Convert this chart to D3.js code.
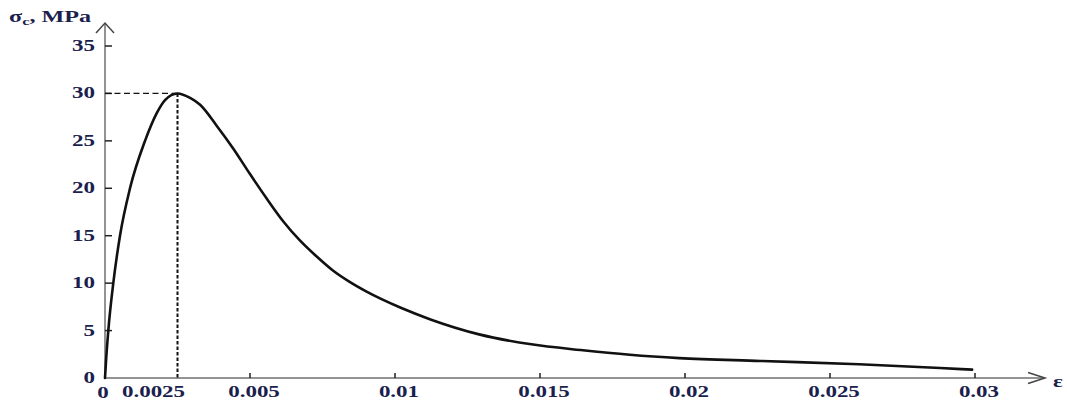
<!DOCTYPE html>
<html>
<head>
<meta charset="utf-8">
<script src="https://cdn.jsdelivr.net/npm/d3@7"></script>
<style>
  html, body { margin: 0; padding: 0; background: #fff; }
  svg { display: block; }
  .lbl { font-family: "Liberation Serif", "Times New Roman", serif; font-weight: bold; fill: #1c1f4e; }
</style>
</head>
<body>
<svg id="chart" width="1067" height="403"></svg>
<script>
// Strain values of the concrete stress–strain curve
const strain = [0, 0.00004, 0.000114, 0.000286, 0.000517, 0.000862, 0.00138, 0.00178, 0.00207,
  0.0025, 0.00295, 0.00328, 0.00385, 0.00442, 0.005, 0.00558, 0.00615, 0.00672, 0.0073,
  0.00787, 0.00845, 0.00902, 0.0102, 0.0112, 0.0129, 0.0147, 0.0164, 0.0181, 0.0198,
  0.0226, 0.026, 0.0288, 0.0299];
// Corresponding compressive stress, MPa
const stress = [0, 2, 5, 10, 15, 20, 25, 27.9, 29.3,
  30, 29.5, 28.8, 26.6, 24.2, 21.5, 18.9, 16.5, 14.5, 12.8,
  11.3, 10.1, 9.1, 7.4, 6.2, 4.6, 3.55, 2.95, 2.45, 2.1,
  1.8, 1.45, 1.05, 0.88];
// Peak point marked with guide lines
const peakStrain = 0.0025;
const peakStress = 30;
// Axis ticks
const xTicks = [0.0025, 0.005, 0.01, 0.015, 0.02, 0.025, 0.03];
const xTickLabels = ["0.0025", "0.005", "0.01", "0.015", "0.02", "0.025", "0.03"];
const yTicks = [0, 5, 10, 15, 20, 25, 30, 35];
const yTickLabels = ["0", "5", "10", "15", "20", "25", "30", "35"];

const svg = d3.select("#chart");
const x = d3.scaleLinear().domain([0, 0.03]).range([105, 975]);
const y = d3.scaleLinear().domain([0, 35]).range([378, 46]);

// The lettering is wide: stretch it so one digit is about 11.5px across
const probe = svg.append("text").attr("class", "lbl").attr("font-size", 16).text("0");
const digitW = probe.node().getComputedTextLength() || 8;
probe.remove();
const SX = 11.5 / digitW;

const axisColor = "#6f6f6f";

// x axis line with open arrow head
svg.append("line").attr("x1", x(0)).attr("x2", 1044).attr("y1", y(0)).attr("y2", y(0))
  .attr("stroke", axisColor).attr("stroke-width", 1.5);
svg.append("path").attr("d", `M1028,${y(0) - 5.5}L1045,${y(0)}L1028,${y(0) + 5.5}`)
  .attr("fill", "none").attr("stroke", "#444").attr("stroke-width", 1.5);

// y axis line with open arrow head
svg.append("line").attr("x1", x(0)).attr("x2", x(0)).attr("y1", y(0)).attr("y2", 24)
  .attr("stroke", axisColor).attr("stroke-width", 1.5);
svg.append("path").attr("d", `M${x(0) - 9},33L${x(0)},23L${x(0) + 9},33`)
  .attr("fill", "none").attr("stroke", "#444").attr("stroke-width", 1.5);

// y ticks (inside, to the right) and labels
yTicks.forEach((v, i) => {
  if (v > 0) {
    svg.append("line").attr("x1", x(0)).attr("x2", x(0) + 7).attr("y1", y(v)).attr("y2", y(v))
      .attr("stroke", "#222").attr("stroke-width", 1.5);
  }
  svg.append("text").attr("class", "lbl")
    .attr("transform", `translate(95,${y(v) + 5}) scale(${SX},1)`)
    .attr("text-anchor", "end").attr("font-size", 16).text(yTickLabels[i]);
});

// x ticks (small upward marks) and labels
xTicks.forEach((v, i) => {
  if (v !== peakStrain) {
    svg.append("line").attr("x1", x(v)).attr("x2", x(v)).attr("y1", y(0)).attr("y2", y(0) - 5)
      .attr("stroke", "#222").attr("stroke-width", 1.5);
  }
  const cx = v === peakStrain ? x(v) - 24 : x(v) + 4;
  svg.append("text").attr("class", "lbl")
    .attr("transform", `translate(${cx},397) scale(${SX},1)`)
    .attr("text-anchor", "middle").attr("font-size", 16).text(xTickLabels[i]);
});
// origin label under the axis
svg.append("text").attr("class", "lbl")
  .attr("transform", `translate(${x(0) - 2},398) scale(${SX},1)`)
  .attr("text-anchor", "middle").attr("font-size", 16).text("0");

// guide lines to the peak
svg.append("line").attr("x1", x(0)).attr("x2", x(peakStrain)).attr("y1", y(peakStress)).attr("y2", y(peakStress))
  .attr("stroke", "#111").attr("stroke-width", 1.3).attr("stroke-dasharray", "6,3.5");
svg.append("line").attr("x1", x(peakStrain)).attr("x2", x(peakStrain)).attr("y1", y(peakStress)).attr("y2", y(0))
  .attr("stroke", "#111").attr("stroke-width", 2).attr("stroke-dasharray", "3.5,2");

// stress–strain curve
const pts = strain.map((e, i) => [e, stress[i]]);
const line = d3.line().x(d => x(d[0])).y(d => y(d[1])).curve(d3.curveMonotoneX);
svg.append("path").datum(pts).attr("d", line)
  .attr("fill", "none").attr("stroke", "#111").attr("stroke-width", 2.6)
  .attr("stroke-linejoin", "round").attr("stroke-linecap", "round");

// axis titles
const yt = svg.append("text").attr("class", "lbl")
  .attr("transform", `translate(9,22) scale(${SX * 1.05},1)`).attr("font-size", 16);
yt.append("tspan").text("σ");
yt.append("tspan").attr("font-size", 11).attr("dy", 3).text("c");
yt.append("tspan").attr("dy", -3).text(", MPa");

svg.append("text").attr("class", "lbl")
  .attr("transform", `translate(1053,387) scale(${SX},1)`).attr("font-size", 16).text("ε");
</script>
</body>
</html>
